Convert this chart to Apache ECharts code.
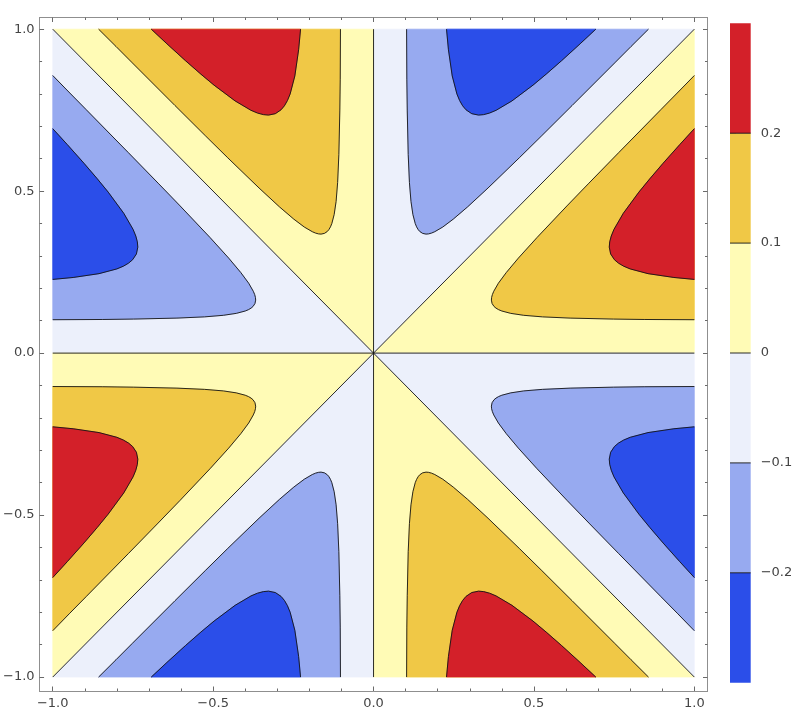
<!DOCTYPE html>
<html>
<head>
<meta charset="utf-8">
<script src="https://cdn.jsdelivr.net/npm/echarts@6/dist/echarts.min.js"></script>
<style>
  html, body { margin: 0; padding: 0; background: #ffffff; }
  #chart { width: 800px; height: 727px; }
</style>
</head>
<body>
<div id="chart"></div>
<script>
// ---- Data ----
// Axis tick values
const xTickLabels = [-1, -0.5, 0, 0.5, 1];
const yTickLabels = [-1, -0.5, 0, 0.5, 1];
const minorTicks = [-0.9, -0.8, -0.7, -0.6, -0.4, -0.3, -0.2, -0.1, 0.1, 0.2, 0.3, 0.4, 0.6, 0.7, 0.8, 0.9];
// Colour-bar levels and tick labels
const levelBounds = [-0.3, -0.2, -0.1, 0, 0.1, 0.2, 0.3];
const legendTicks = [-0.2, -0.1, 0, 0.1, 0.2];
const bandColors = ['#2b4ee9', '#97aaf0', '#ecf0fb', '#fffbb6', '#f0c846', '#d32029'];

// Contour f = 0.1 in the sector between y = 0 and y = x (right side)
const level01 = [
  [1.0000, 0.1031], [0.8457, 0.1038], [0.7475, 0.1051], [0.6128, 0.1081], [0.5265, 0.1119],
  [0.4682, 0.1167], [0.4278, 0.1227], [0.4000, 0.1300], [0.3898, 0.1342], [0.3817, 0.1389],
  [0.3755, 0.1441], [0.3696, 0.1531], [0.3674, 0.1636], [0.3681, 0.1717], [0.3705, 0.1807],
  [0.3748, 0.1909], [0.3892, 0.2158], [0.4136, 0.2485], [0.4514, 0.2932], [0.5097, 0.3569],
  [0.6028, 0.4543], [0.6714, 0.5246], [0.7643, 0.6189], [0.8959, 0.7518], [0.9466, 0.8028],
  [1.0000, 0.8570]
];
// Contour f = 0.2 in the same sector
const level02 = [
  [1.0000, 0.2275], [0.9363, 0.2335], [0.8556, 0.2453], [0.8000, 0.2599], [0.7796, 0.2684],
  [0.7634, 0.2778], [0.7510, 0.2883], [0.7391, 0.3061], [0.7348, 0.3272], [0.7362, 0.3433],
  [0.7410, 0.3614], [0.7495, 0.3819], [0.7785, 0.4315], [0.8271, 0.4970], [0.8610, 0.5380],
  [0.9028, 0.5863], [0.9548, 0.6440], [1.0000, 0.6929]
];
// Sector triangle between y = 0 and y = x
const baseTriangle = [[0, 0], [1, 0], [1, 1]];
// Zero contour lines
const zeroLines = [
  [[-1, -1], [1, 1]], [[-1, 1], [1, -1]], [[-1, 0], [1, 0]], [[0, -1], [0, 1]]
];
// The eight sectors: mirror/rotation of the base sector and the sign of the values there
const sectorMaps = [
  [1, 0, 0, 1], [0, 1, 1, 0], [0, -1, 1, 0], [-1, 0, 0, 1],
  [-1, 0, 0, -1], [0, -1, -1, 0], [0, 1, -1, 0], [1, 0, 0, -1]
];
const sectorSigns = [1, -1, 1, -1, 1, -1, 1, -1];

// ---- Build polygons ----
function mapPts(pts, m) {
  return pts.map(p => [m[0] * p[0] + m[1] * p[1], m[2] * p[0] + m[3] * p[1]]);
}
const fills = [];
const strokes = [];
sectorMaps.forEach((m, k) => {
  const pos = sectorSigns[k] > 0;
  fills.push({ pts: mapPts(baseTriangle, m), color: pos ? bandColors[3] : bandColors[2] });
  fills.push({ pts: mapPts(level01, m), color: pos ? bandColors[4] : bandColors[1] });
  fills.push({ pts: mapPts(level02, m), color: pos ? bandColors[5] : bandColors[0] });
  strokes.push(mapPts(level01, m));
  strokes.push(mapPts(level02, m));
});
zeroLines.forEach(l => strokes.push(l));

const bands = [];
for (let i = 0; i < bandColors.length; i++) {
  bands.push({ lo: levelBounds[i], hi: levelBounds[i + 1], color: bandColors[i] });
}

function fmt(v) {
  const s = Math.abs(v) < 1e-9 ? '0.0' : v.toFixed(1);
  return s.replace('-', '\u2212');
}
function fmtLegend(v) {
  if (Math.abs(v) < 1e-9) return '0';
  return v.toFixed(1).replace('-', '\u2212');
}

const FRAME = '#8f8f8f';
const TICK = '#6a6a6a';
const LINE = 'rgba(20,20,20,0.9)';
const LABEL = { color: '#444', fontFamily: 'DejaVu Sans', fontSize: 13 };

function xAx(pos, major, labels) {
  return {
    gridIndex: 0, type: 'value', position: pos, min: -1.041, max: 1.041,
    axisLine: { show: true, onZero: false, lineStyle: { color: FRAME, width: 1 } },
    axisTick: { show: true, inside: true, length: major ? 4.5 : 2.5,
      customValues: major ? xTickLabels : minorTicks, lineStyle: { color: TICK, width: 1 } },
    axisLabel: labels ? Object.assign({ show: true, customValues: xTickLabels, formatter: fmt, margin: 6 }, LABEL) : { show: false },
    splitLine: { show: false }
  };
}
function yAx(pos, major, labels) {
  return {
    gridIndex: 0, type: 'value', position: pos, min: -1.043, max: 1.036,
    axisLine: { show: true, onZero: false, lineStyle: { color: FRAME, width: 1 } },
    axisTick: { show: true, inside: true, length: major ? 4.5 : 2.5,
      customValues: major ? yTickLabels : minorTicks, lineStyle: { color: TICK, width: 1 } },
    axisLabel: labels ? Object.assign({ show: true, customValues: yTickLabels, formatter: fmt, margin: 5 }, LABEL) : { show: false },
    splitLine: { show: false }
  };
}

const chart = echarts.init(document.getElementById('chart'), null, { renderer: 'canvas' });
chart.setOption({
  animation: false,
  backgroundColor: '#ffffff',
  grid: [
    { left: 33.5, top: 17.5, width: 674, height: 673.5 },
    { left: 730, top: 23.3, width: 20.7, height: 659.4 }
  ],
  xAxis: [
    xAx('bottom', true, true), xAx('bottom', false, false),
    xAx('top', true, false), xAx('top', false, false),
    { gridIndex: 1, type: 'value', min: 0, max: 1, show: false }
  ],
  yAxis: [
    yAx('left', true, true), yAx('left', false, false),
    yAx('right', true, false), yAx('right', false, false),
    {
      gridIndex: 1, type: 'value', position: 'right', min: -0.3, max: 0.3,
      axisLine: { show: false },
      axisTick: { show: true, inside: false, length: 6, customValues: legendTicks, lineStyle: { color: '#a0a0a0', width: 1 } },
      axisLabel: Object.assign({ show: true, customValues: legendTicks, formatter: fmtLegend, margin: 10 }, LABEL),
      splitLine: { show: false }
    }
  ],
  series: [
    {
      type: 'custom', xAxisIndex: 0, yAxisIndex: 0, silent: true, clip: true,
      data: fills.map(() => [0, 0]),
      renderItem: function (params, api) {
        const f = fills[params.dataIndex];
        return {
          type: 'polygon',
          shape: { points: f.pts.map(p => api.coord(p)) },
          style: { fill: f.color, stroke: f.color, lineWidth: 0.6 }
        };
      },
      z: 1
    },
    {
      type: 'custom', xAxisIndex: 0, yAxisIndex: 0, silent: true, clip: true,
      data: strokes.map(() => [0, 0]),
      renderItem: function (params, api) {
        const s = strokes[params.dataIndex];
        return {
          type: 'polyline',
          shape: { points: s.map(p => api.coord(p)) },
          style: { fill: null, stroke: LINE, lineWidth: 1 }
        };
      },
      z: 2
    },
    {
      type: 'custom', xAxisIndex: 4, yAxisIndex: 4, silent: true,
      data: bands.map(() => [0, 0]),
      renderItem: function (params, api) {
        const b = bands[params.dataIndex];
        const p1 = api.coord([0, b.hi]);
        const p2 = api.coord([1, b.lo]);
        const children = [{
          type: 'rect',
          shape: { x: p1[0], y: p1[1], width: p2[0] - p1[0], height: p2[1] - p1[1] },
          style: { fill: b.color }
        }];
        if (params.dataIndex > 0) {
          children.push({
            type: 'line',
            shape: { x1: p1[0], y1: p2[1], x2: p2[0], y2: p2[1] },
            style: { stroke: LINE, lineWidth: 1 }
          });
        }
        return { type: 'group', children: children };
      },
      z: 2
    }
  ]
});
</script>
</body>
</html>
